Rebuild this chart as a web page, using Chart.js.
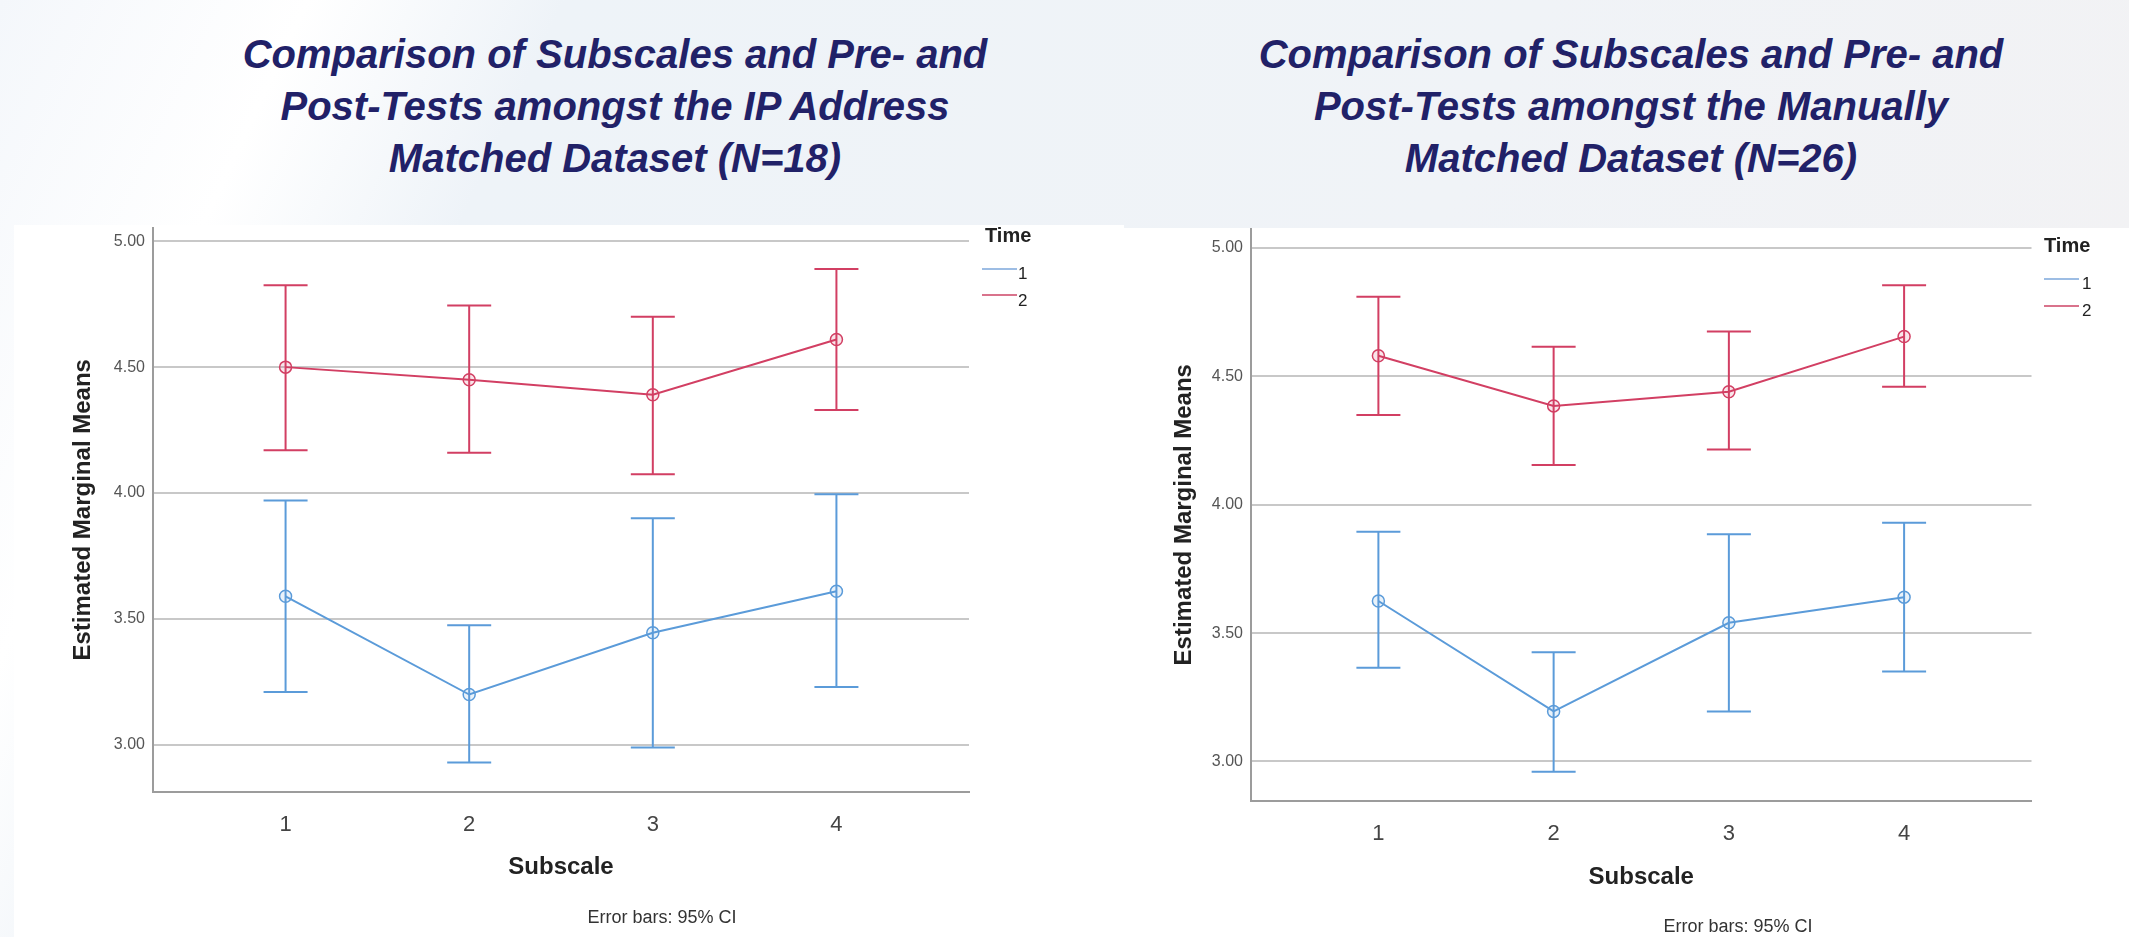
<!DOCTYPE html>
<html>
<head>
<meta charset="utf-8">
<script src="https://cdn.jsdelivr.net/npm/chart.js@4.4.1/dist/chart.umd.min.js"></script>
<style>
  html, body { margin: 0; padding: 0; }
  body {
    width: 2129px; height: 937px; overflow: hidden; position: relative;
    font-family: "Liberation Sans", Arial, sans-serif;
    background: linear-gradient(115deg, #f4f7fb 0%, #ffffff 12%, #eef3f8 22%, #f0f3f7 60%, #f2f2f4 88%, #f6eef0 100%);
  }
  .panel { position: absolute; background: #fff; }
  .title {
    position: absolute; top: 28px; width: 900px; text-align: center;
    font: italic bold 40px/52px "Liberation Sans", Arial, sans-serif;
    color: #212168;
  }
  canvas { position: absolute; }
  .legend { position: absolute; color: #222; }
  .legend .head { position: absolute; font-weight: bold; font-size: 20px; line-height: 20px; }
  .legend .item { position: absolute; font-size: 17px; line-height: 17px; }
  .legend .swatch { position: absolute; height: 0; width: 35px; border-top: 2px solid; }
  .note { position: absolute; font-size: 18px; line-height: 18px; color: #333; width: 300px; text-align: center; }
</style>
</head>
<body>
<div class="panel" style="left:14px; top:225px; width:1110px; height:712px;"></div>
<div class="panel" style="left:1124px; top:228px; width:1005px; height:709px;"></div>

<div class="title" style="left:165px;">Comparison of Subscales and Pre- and<br>Post-Tests amongst the IP Address<br>Matched Dataset (N=18)</div>
<div class="title" style="left:1181px;">Comparison of Subscales and Pre- and<br>Post-Tests amongst the Manually<br>Matched Dataset (N=26)</div>

<canvas id="left" width="1124" height="727" style="left:0; top:210px;"></canvas>
<canvas id="right" width="1005" height="727" style="left:1124px; top:210px;"></canvas>

<div class="legend" style="left:982px; top:0;">
  <div class="head" style="left:3px; top:225px;">Time</div>
  <div class="swatch" style="left:0; top:268px; border-color:#9dbde4;"></div>
  <div class="item" style="left:36px; top:265px;">1</div>
  <div class="swatch" style="left:0; top:294px; border-color:#d9738c;"></div>
  <div class="item" style="left:36px; top:292px;">2</div>
</div>
<div class="legend" style="left:2044px; top:0;">
  <div class="head" style="left:0; top:235px;">Time</div>
  <div class="swatch" style="left:0; top:278px; border-color:#9dbde4;"></div>
  <div class="item" style="left:38px; top:275px;">1</div>
  <div class="swatch" style="left:0; top:305px; border-color:#d9738c;"></div>
  <div class="item" style="left:38px; top:302px;">2</div>
</div>

<div class="note" style="left:512px; top:908px;">Error bars: 95% CI</div>
<div class="note" style="left:1588px; top:917px;">Error bars: 95% CI</div>

<script>
// x categories and y tick marks
const subscales = [1, 2, 3, 4];
const yTicks = [3.0, 3.5, 4.0, 4.5, 5.0];

// IP address matched dataset (N=18)
const ipTime1Mean = [3.59, 3.20, 3.445, 3.61];
const ipTime1Lower = [3.21, 2.93, 2.99, 3.23];
const ipTime1Upper = [3.97, 3.475, 3.90, 3.995];
const ipTime2Mean = [4.50, 4.45, 4.39, 4.61];
const ipTime2Lower = [4.17, 4.16, 4.075, 4.33];
const ipTime2Upper = [4.825, 4.745, 4.70, 4.89];

// manually matched dataset (N=26)
const manTime1Mean = [3.625, 3.195, 3.54, 3.64];
const manTime1Lower = [3.365, 2.96, 3.195, 3.35];
const manTime1Upper = [3.895, 3.425, 3.885, 3.93];
const manTime2Mean = [4.58, 4.385, 4.44, 4.655];
const manTime2Lower = [4.35, 4.155, 4.215, 4.46];
const manTime2Upper = [4.81, 4.615, 4.675, 4.855];

const BLUE = "#5b9bd9";
const RED = "#d23f63";

Chart.defaults.font.family = "'Liberation Sans', Arial, sans-serif";

// draws the 95% CI whiskers using the chart's own scales
const errorBars = {
  id: "errorBars",
  afterDatasetsDraw(chart) {
    const { ctx, scales: { x, y } } = chart;
    chart.data.datasets.forEach((ds) => {
      ctx.save();
      ctx.strokeStyle = ds.borderColor;
      ctx.lineWidth = 2;
      ds.data.forEach((p, i) => {
        const px = x.getPixelForValue(p.x);
        const top = y.getPixelForValue(ds.upper[i]);
        const bot = y.getPixelForValue(ds.lower[i]);
        ctx.beginPath();
        ctx.moveTo(px, top);
        ctx.lineTo(px, bot);
        ctx.moveTo(px - 22, top);
        ctx.lineTo(px + 22, top);
        ctx.moveTo(px - 22, bot);
        ctx.lineTo(px + 22, bot);
        ctx.stroke();
      });
      ctx.restore();
    });
  },
};

const series = (label, mean, lower, upper, color) => ({
  label,
  data: subscales.map((s, i) => ({ x: s, y: mean[i] })),
  lower,
  upper,
  borderColor: color,
  backgroundColor: color + "22",
  borderWidth: 2,
  pointRadius: 6,
  pointBorderWidth: 1.5,
  tension: 0,
});

const makeChart = (id, sets, cfg) =>
  new Chart(document.getElementById(id), {
    type: "line",
    data: { datasets: sets },
    plugins: [errorBars],
    options: {
      responsive: false,
      animation: false,
      layout: { padding: cfg.padding },
      plugins: { legend: { display: false }, tooltip: { enabled: false } },
      scales: {
        x: {
          type: "linear",
          min: cfg.xMin,
          max: cfg.xMax,
          afterBuildTicks: (s) => { s.ticks = subscales.map((v) => ({ value: v })); },
          afterFit: (s) => { s.height = cfg.xHeight; },
          grid: { display: false },
          border: { display: true, color: "#9c9c9c", width: 2 },
          ticks: { font: { size: 22 }, color: "#444", padding: 12, callback: (v) => v },
          title: { display: true, text: "Subscale", font: { size: 24, weight: "bold" }, color: "#222", padding: { bottom: cfg.xTitlePad } },
        },
        y: {
          min: cfg.yMin,
          max: cfg.yMax,
          afterBuildTicks: (s) => { s.ticks = yTicks.map((v) => ({ value: v })); },
          afterFit: (s) => { s.width = cfg.yWidth; },
          grid: { color: "#c8c8c8", lineWidth: 2, drawTicks: false },
          border: { display: true, color: "#9c9c9c", width: 2 },
          ticks: { font: { size: 16 }, color: "#555", padding: 8, callback: (v) => Number(v).toFixed(2) },
          title: { display: true, text: "Estimated Marginal Means", font: { size: 24, weight: "bold" }, color: "#222", padding: { top: cfg.yTitlePad } },
        },
      },
    },
  });

makeChart("left", [
  series("1", ipTime1Mean, ipTime1Lower, ipTime1Upper, BLUE),
  series("2", ipTime2Mean, ipTime2Lower, ipTime2Upper, RED),
], {
  padding: { top: 14, right: 155, left: 0, bottom: 0 },
  xMin: 0.278, xMax: 4.722, yMin: 2.813, yMax: 5.054,
  xHeight: 145, yWidth: 153, xTitlePad: 55, yTitlePad: 69,
});

makeChart("right", [
  series("1", manTime1Mean, manTime1Lower, manTime1Upper, BLUE),
  series("2", manTime2Mean, manTime2Lower, manTime2Upper, RED),
], {
  padding: { top: 18.5, right: 97.5, left: 0, bottom: 0 },
  xMin: 0.273, xMax: 4.727, yMin: 2.846, yMax: 5.076,
  xHeight: 136, yWidth: 127, xTitlePad: 45, yTitlePad: 46,
});
</script>
</body>
</html>
